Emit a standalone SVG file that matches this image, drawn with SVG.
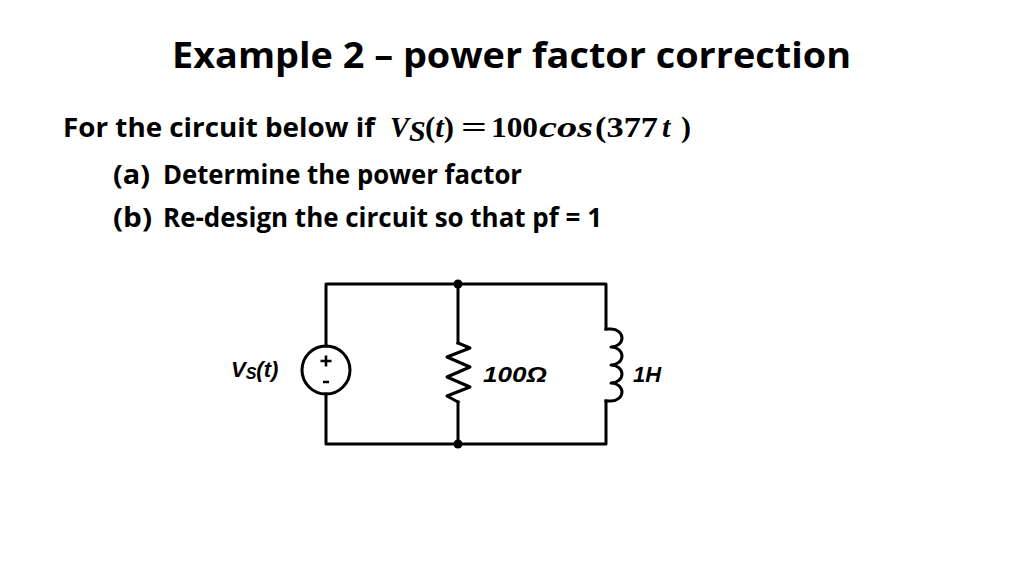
<svg xmlns="http://www.w3.org/2000/svg" width="1024" height="576" viewBox="0 0 1024 576">
<style>
.t{font-family:"Open Sans","Liberation Sans",sans-serif;font-weight:bold;fill:#000}
.m{font-family:"Liberation Serif",serif;font-weight:bold;fill:#000;font-size:30px}
.i{font-style:italic}
.lab{font-family:"Liberation Sans",Arial,sans-serif;font-weight:bold;font-style:italic;font-size:22px;fill:#000}
.w{fill:none;stroke:#000;stroke-width:3;stroke-linejoin:round;stroke-linecap:square}
</style>
<rect width="1024" height="576" fill="#fff"/>
<g id="title">
<text class="t" x="172" y="68" font-size="36" textLength="679" lengthAdjust="spacingAndGlyphs">Example 2 – power factor correction</text>
</g>
<g id="problem">
<text class="t" x="63" y="137" font-size="27" textLength="312" lengthAdjust="spacingAndGlyphs">For the circuit below if</text>
<text class="m i" x="390" y="137" textLength="19" lengthAdjust="spacingAndGlyphs">V</text>
<text class="m i" x="409" y="141" font-size="17">S</text>
<text class="m" x="425" y="137" textLength="29" lengthAdjust="spacingAndGlyphs">(<tspan class="i">t</tspan>)</text>
<text class="m" x="461" y="137" textLength="26" lengthAdjust="spacingAndGlyphs">=</text>
<text class="m" x="491" y="137" textLength="47" lengthAdjust="spacingAndGlyphs">100</text>
<text class="m i" x="539" y="137" textLength="54" lengthAdjust="spacingAndGlyphs">cos</text>
<text class="m" x="595" y="137" textLength="63" lengthAdjust="spacingAndGlyphs">(377</text>
<text class="m i" x="662" y="137">t</text>
<text class="m" x="681" y="137">)</text>
<text class="t" x="113" y="184" font-size="26" textLength="37" lengthAdjust="spacingAndGlyphs">(a)</text>
<text class="t" x="163" y="184" font-size="26" textLength="359" lengthAdjust="spacingAndGlyphs">Determine the power factor</text>
<text class="t" x="113" y="227" font-size="26" textLength="39" lengthAdjust="spacingAndGlyphs">(b)</text>
<text class="t" x="163" y="227" font-size="26" textLength="439" lengthAdjust="spacingAndGlyphs">Re-design the circuit so that pf = 1</text>
</g>
<g id="connectors">
<path class="w" d="M326,346 V284 H606 V329"/>
<path class="w" d="M326,394 V444 H606 V401"/>
<path class="w" d="M458,284 V343"/>
<path class="w" d="M458,402 V444"/>
<circle cx="458" cy="284" r="4.5" fill="#000"/>
<circle cx="458" cy="444" r="4.5" fill="#000"/>
</g>
<g id="source">
<circle cx="326" cy="370" r="24" fill="none" stroke="#000" stroke-width="3"/>
<path d="M320.5,361 H331.5 M326,355.5 V366.5 M323,382 H329" stroke="#000" stroke-width="2.6" fill="none"/>
<text class="lab" x="231" y="377">V<tspan font-size="16" dy="2">S</tspan><tspan dy="-2">(t)</tspan></text>
</g>
<g id="resistor">
<path class="w" d="M458,343 L470,348 L447,357 L470,367 L447,377 L470,387 L447,396 L458,402"/>
<text class="lab" x="483" y="382" textLength="64" lengthAdjust="spacingAndGlyphs">100Ω</text>
</g>
<g id="inductor">
<path class="w" d="M606,329 H611 A11,9 0 0 1 611,347 A11,9 0 0 1 611,365 A11,9 0 0 1 611,383 A11,9 0 0 1 611,401 H606"/>
<text class="lab" x="633" y="382">1H</text>
</g>
</svg>
